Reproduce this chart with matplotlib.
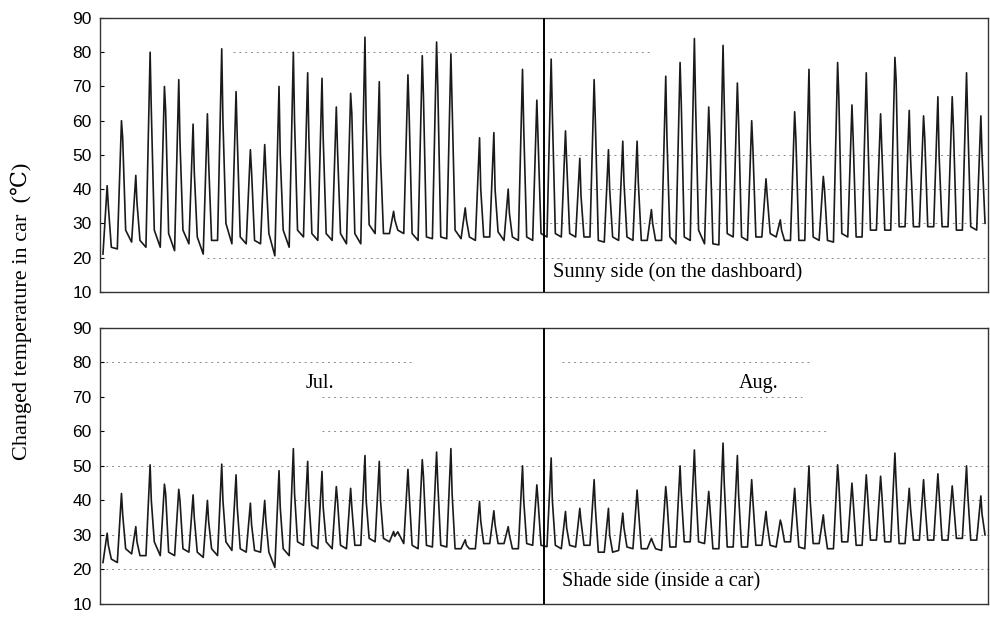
import numpy as np
import matplotlib
matplotlib.use("Agg")
import matplotlib.pyplot as plt

# daily readings (1 Jul .. 31 Aug)
# per day: morning minimum, midday peak, shoulder after peak, evening level
sun_min = [21, 22.5, 24.5, 23, 23, 22, 24, 21, 25, 24, 24, 24, 20.5, 23, 26,
           25, 25, 24, 24, 27, 27, 27, 25, 25.5, 25.5, 25.5, 25, 26, 25, 25, 25,
           26, 26, 26, 26, 24.5, 25, 25, 25, 25, 24, 25, 24, 23.7, 26, 25,
           26, 26, 25, 25, 25, 24.5, 26, 26, 28, 28, 29, 29, 29, 29, 28, 28]
sun_peak = [41, 60, 44, 80, 70, 72, 59, 62, 81, 68.5, 51.5, 53, 70, 80, 74,
            72.4, 64, 68, 84.4, 71.4, 33.5, 73.4, 79, 83, 79.5, 34.5, 55, 56.5, 40, 75, 66,
            78, 57, 49, 72, 51.5, 54, 54, 34, 73, 77, 84, 64, 82, 71, 60,
            43, 31, 62.6, 75, 43.7, 77, 64.6, 74, 62, 78.5, 63, 61.4, 67, 67, 74, 61.4]
sun_shoulder = [35, 55, 36, 63, 63, 54, 45, 48, 60, 55, 45, 45, 50, 60, 55,
                55, 51.5, 62, 60, 50, 31, 62, 67, 70, 65, 31, 40, 40, 33, 58, 55,
                62, 48, 38, 60, 40, 42, 42, 30, 55, 65, 65, 55, 65, 60, 52,
                38, 28, 55, 54, 40, 67, 55, 60, 52, 72, 50, 55, 50, 58, 60, 50]
sun_eve = [23, 28, 25, 28, 27, 28, 26, 25, 30, 26, 25, 27, 28, 28, 27,
           27, 27, 27, 29.6, 27, 28, 27, 26, 26, 28, 26, 26, 27.5, 26, 26, 27,
           27, 27, 26, 25, 26, 26, 25, 25, 26, 26, 28, 24, 27, 26, 26,
           27, 25, 25, 26, 25, 27, 26, 28, 28, 29, 29, 29, 29, 28, 29, 30]

shade_min = [22, 22, 24.5, 24, 24, 24, 25, 23.5, 24, 25.5, 25, 25, 20.6, 24, 27,
             26, 26, 26, 27, 28, 28, 27.5, 26, 26.5, 26.5, 26, 26, 27.5, 27.5, 26, 27,
             26.6, 26, 26.5, 27, 25, 25.5, 26, 26, 25.5, 26.5, 28, 27.5, 26, 26.5, 26.5,
             27, 26.5, 28, 26, 27.5, 26, 28, 27, 28.5, 28, 27.5, 28.5, 28.5, 28.5, 29, 28.5]
shade_peak = [30.5, 42, 32.4, 50.3, 44.7, 43.2, 41.6, 40, 50.5, 47.4, 39.2, 40, 48.6, 55, 51.3,
              48.4, 44, 43.5, 53, 51.3, 31, 49, 51.8, 54, 55, 28.6, 39.7, 37, 32.4, 50, 44.5,
              52.3, 36.8, 37.7, 46, 37.7, 36.3, 43, 29, 44, 50, 54.6, 42.6, 56.6, 53, 46,
              36.8, 34.3, 43.5, 50, 35.8, 50.3, 45, 47.4, 47, 53.7, 43.5, 46, 47.7, 44.2, 50, 41.3]
shade_shoulder = [27, 36, 28, 40, 42, 40, 35, 34, 40, 38, 33, 34, 38, 42, 40,
                  38, 40, 38, 40, 40, 29.6, 42, 47, 45, 42, 27, 34, 33, 30, 40, 40,
                  40, 32, 34, 38, 30, 32, 38, 28, 40, 42, 45, 38, 45, 42, 40,
                  33, 33, 38, 40, 32, 45, 40, 42, 42, 45, 38, 40, 42, 40, 42, 36]
shade_eve = [23, 26, 24, 28, 25, 26, 25, 26, 28, 26, 25.5, 25, 26, 28, 27,
             28, 27, 27, 29, 29, 30.9, 27, 27, 27, 26, 26, 27.5, 27.5, 26, 27.5, 27,
             27, 27, 27, 25, 25, 26.5, 26, 26, 26.5, 28, 28, 26, 26.5, 26.5, 27,
             27, 28, 26.5, 27.5, 26, 28, 27, 28.5, 28, 27.5, 28.5, 28.5, 28.5, 29, 28.5, 30]

month_labels = ["Jul.", "Aug."]
aug_start = 31  # day index of 1 Aug

# hours of the day at which each reading sits
hours = [5, 12, 14, 19]


def daily_series(mins, peaks, shoulders, eves):
    t, v = [], []
    for d in range(len(mins)):
        for h, val in zip(hours, [mins[d], peaks[d], shoulders[d], eves[d]]):
            t.append(d + h / 24.0)
            v.append(val)
    return np.array(t), np.array(v)


t_sun, v_sun = daily_series(sun_min, sun_peak, sun_shoulder, sun_eve)
t_shade, v_shade = daily_series(shade_min, shade_peak, shade_shoulder, shade_eve)

serif = ["Liberation Serif", "DejaVu Serif"]

fig = plt.figure(figsize=(9.9, 6.22), dpi=100)
ax1 = fig.add_axes([0.101, 0.531, 0.897, 0.440])
ax2 = fig.add_axes([0.101, 0.029, 0.897, 0.444])

# faint dotted guide lines of the scan: (level, start, end) in axes fraction
guides_top = [(20, 0.12, 1.0), (80, 0.15, 0.62), (50, 0.5, 1.0),
              (40, 0.55, 1.0), (30, 0.5, 1.0)]
guides_bottom = [(20, 0.0, 1.0), (30, 0.0, 1.0), (40, 0.22, 1.0), (50, 0.0, 1.0),
                 (60, 0.25, 0.82), (70, 0.25, 0.79), (80, 0.0, 0.35), (80, 0.52, 0.8)]

for ax, t, v, guides in [(ax1, t_sun, v_sun, guides_top),
                         (ax2, t_shade, v_shade, guides_bottom)]:
    for lvl, a, b in guides:
        ax.axhline(lvl, a, b, linestyle=(0, (2, 4)), color="#8a8a8a", lw=0.7, zorder=1)
    ax.plot(t, v, color="#1a1a1a", lw=1.2, zorder=3)
    ax.axvline(aug_start, color="black", lw=1.4, zorder=4)
    ax.set_xlim(0, 62)
    ax.set_ylim(10, 90)
    ax.set_yticks(range(10, 91, 10))
    ax.set_xticks([])
    ax.tick_params(axis="y", direction="in", length=3, labelsize=12.5, pad=6)
    for lab in ax.get_yticklabels():
        lab.set_fontfamily("Liberation Sans")
    for s in ax.spines.values():
        s.set_linewidth(1.0)
        s.set_color("#333333")

ax1.text(0.51, 0.07, "Sunny side (on the dashboard)", transform=ax1.transAxes,
         family=serif, fontsize=14.8, va="center")
ax2.text(0.52, 0.08, "Shade side (inside a car)", transform=ax2.transAxes,
         family=serif, fontsize=14.6, va="center")
ax2.text(0.248, 0.80, month_labels[0], transform=ax2.transAxes,
         family=serif, fontsize=14.5, ha="center", va="center")
ax2.text(0.742, 0.80, month_labels[1], transform=ax2.transAxes,
         family=serif, fontsize=14.5, ha="center", va="center")

fig.text(0.022, 0.5, "Changed temperature in car  (\u2103)", rotation=90,
         family=serif, fontsize=16, ha="center", va="center")

plt.savefig("out.png", dpi=100)
plt.close()
